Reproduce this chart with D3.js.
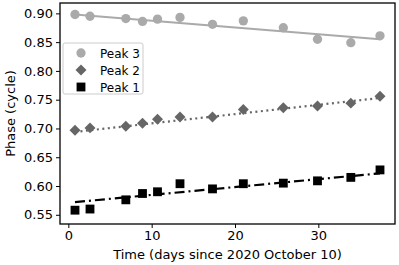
<!DOCTYPE html>
<html>
<head>
<meta charset="utf-8">
<script src="https://cdn.jsdelivr.net/npm/d3@7"></script>
<style>
  body { margin: 0; background: #fff; }
  text { font-family: "DejaVu Sans", sans-serif; }
</style>
</head>
<body>
<svg width="399" height="265"></svg>
<script>
const days = [0.8, 2.6, 6.9, 8.9, 10.7, 13.4, 17.3, 21.0, 25.8, 29.9, 33.9, 37.4];
const peak3 = [0.898, 0.895, 0.891, 0.886, 0.890, 0.893, 0.881, 0.887, 0.875, 0.855, 0.849, 0.861];
const peak2 = [0.697, 0.701, 0.704, 0.709, 0.716, 0.720, 0.720, 0.733, 0.736, 0.739, 0.744, 0.756];
const peak1 = [0.558, 0.560, 0.576, 0.587, 0.590, 0.604, 0.595, 0.604, 0.605, 0.609, 0.615, 0.628];
// fitted trend lines, value at first and last day
const fit3 = [0.898, 0.855];
const fit2 = [0.694, 0.753];
const fit1 = [0.572, 0.622];
const xTicks = [0, 10, 20, 30];
const yTicks = [0.55, 0.60, 0.65, 0.70, 0.75, 0.80, 0.85, 0.90];

const series = [
  { name: "Peak 3", values: peak3, fit: fit3, color: "#aaaaaa", shape: "circle", dash: null },
  { name: "Peak 2", values: peak2, fit: fit2, color: "#666666", shape: "diamond", dash: "2,3.5" },
  { name: "Peak 1", values: peak1, fit: fit1, color: "#000000", shape: "square", dash: "10,4,2,4" }
];

const margin = { left: 60, right: 4, top: 3, bottom: 41 };
const W = 399, H = 265;
const svg = d3.select("svg");

const x = d3.scaleLinear().domain([-1, 39.2]).range([margin.left, W - margin.right]);
const y = d3.scaleLinear().domain([0.534, 0.918]).range([H - margin.bottom, margin.top]);

const plot = svg.append("g");

series.forEach(s => {
  plot.append("line")
    .attr("x1", x(days[0])).attr("y1", y(s.fit[0]))
    .attr("x2", x(days[days.length - 1])).attr("y2", y(s.fit[1]))
    .attr("stroke", s.color)
    .attr("stroke-width", 2.2)
    .attr("stroke-dasharray", s.dash);
});

const sym = {
  circle: d3.symbol().type(d3.symbolCircle).size(68),
  diamond: d3.symbol().type(d3.symbolSquare).size(60),
  square: d3.symbol().type(d3.symbolSquare).size(78)
};
const rot = { circle: 0, diamond: 45, square: 0 };

series.forEach(s => {
  plot.selectAll(null)
    .data(s.values)
    .enter()
    .append("path")
    .attr("d", sym[s.shape])
    .attr("transform", (v, i) => "translate(" + x(days[i]) + "," + y(v) + ") rotate(" + rot[s.shape] + ")")
    .attr("fill", s.color);
});

// axes
const xAxis = svg.append("g")
  .attr("transform", "translate(0," + (H - margin.bottom) + ")")
  .call(d3.axisBottom(x).tickValues(xTicks).tickSize(4).tickPadding(3));
const yAxis = svg.append("g")
  .attr("transform", "translate(" + margin.left + ",0)")
  .call(d3.axisLeft(y).tickValues(yTicks).tickFormat(d3.format(".2f")).tickSize(4).tickPadding(3));

[xAxis, yAxis].forEach(a => {
  a.select(".domain").remove();
  a.selectAll("text").attr("font-size", 13).attr("fill", "#000")
    .attr("font-family", "DejaVu Sans");
  a.selectAll("line").attr("stroke", "#000").attr("stroke-width", 1);
});

svg.append("rect")
  .attr("x", margin.left).attr("y", margin.top)
  .attr("width", W - margin.left - margin.right)
  .attr("height", H - margin.top - margin.bottom)
  .attr("fill", "none").attr("stroke", "#000").attr("stroke-width", 1.3);

svg.append("text")
  .attr("x", (margin.left + W - margin.right) / 2)
  .attr("y", 259)
  .attr("text-anchor", "middle")
  .attr("font-size", 13)
  .text("Time (days since 2020 October 10)");

svg.append("text")
  .attr("transform", "translate(15," + (margin.top + H - margin.bottom) / 2 + ") rotate(-90)")
  .attr("text-anchor", "middle")
  .attr("font-size", 13)
  .text("Phase (cycle)");

// legend
const lg = svg.append("g").attr("transform", "translate(63,43)");
lg.append("rect")
  .attr("width", 80).attr("height", 51).attr("rx", 2)
  .attr("fill", "#fff").attr("fill-opacity", 0.8)
  .attr("stroke", "#ccc").attr("stroke-width", 1);
series.forEach((s, i) => {
  const yy = 10 + i * 17;
  lg.append("path")
    .attr("d", sym[s.shape])
    .attr("transform", "translate(18," + yy + ") rotate(" + rot[s.shape] + ")")
    .attr("fill", s.color);
  lg.append("text")
    .attr("x", 37).attr("y", yy + 4.5)
    .attr("font-size", 12)
    .text(s.name);
});
</script>
</body>
</html>
